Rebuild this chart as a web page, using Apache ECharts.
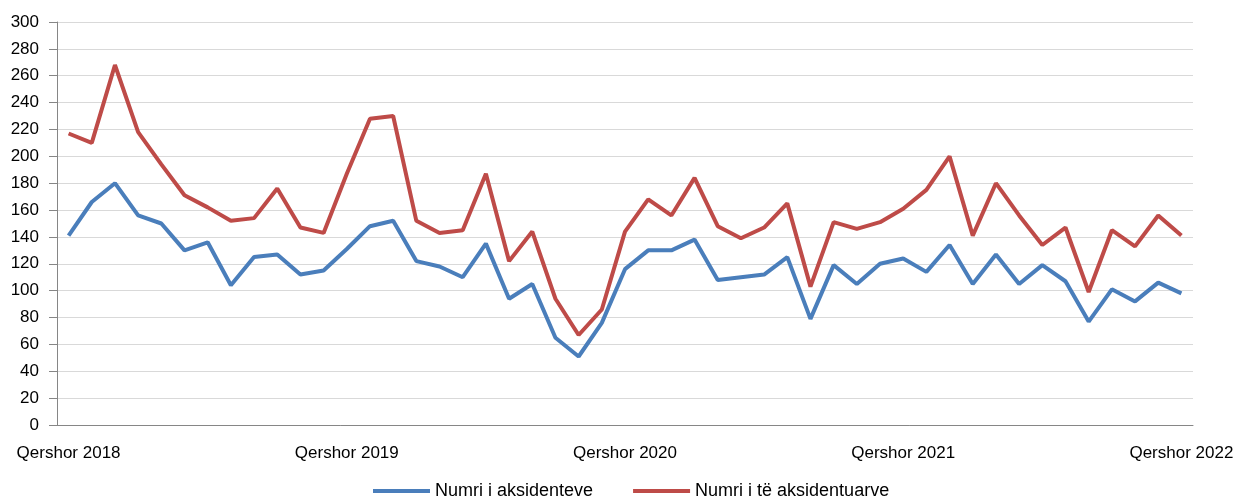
<!DOCTYPE html>
<html><head><meta charset="utf-8">
<script src="https://cdn.jsdelivr.net/npm/echarts@6/dist/echarts.min.js"></script>
<style>html,body{margin:0;padding:0;background:#fff}#c{width:1238px;height:500px}</style>
</head><body><div id="c"></div>
<script>
const months = ['Qershor','Korrik','Gusht','Shtator','Tetor','Nëntor','Dhjetor','Janar','Shkurt','Mars','Prill','Maj'];
const categories = [];
for (let i = 0; i < 49; i++) {
  categories.push(months[i % 12] + ' ' + (i % 12 < 7 ? 2018 + Math.floor(i / 12) : 2019 + Math.floor(i / 12)));
}
const accidents = [141,166,180,156,150,130,136,104,125,127,112,115,131,148,152,122,118,110,135,94,105,65,51,76,116,130,130,138,108,110,112,125,79,119,105,120,124,114,134,105,127,105,119,107,77,101,92,106,98];
const injured = [217,210,268,218,194,171,162,152,154,176,147,143,187,228,230,152,143,145,187,122,144,94,67,86,144,168,156,184,148,139,147,165,103,151,146,151,161,175,200,141,180,156,134,147,99,145,133,156,141];
const seriesNames = ['Numri i aksidenteve','Numri i të aksidentuarve'];
const yTicks = {min:0, max:300, interval:20};

const chart = echarts.init(document.getElementById('c'));
const font = 'Liberation Sans, Arial, sans-serif';
chart.setOption({
  animation:false,
  grid:{left:57,right:45,top:22,bottom:75},
  legend:{
    bottom:0, left:373, padding:0,
    icon:'rect', itemWidth:57, itemHeight:4, itemGap:40,
    textStyle:{fontFamily:font, fontSize:18, color:'#000'},
    data:seriesNames
  },
  xAxis:{
    type:'category', data:categories, boundaryGap:true,
    axisLine:{lineStyle:{color:'#868686'}},
    axisTick:{interval:0, length:6, lineStyle:{color:'#868686'}},
    axisLabel:{
      interval:function(i){return i % 12 === 0;},
      color:'#000', fontFamily:font, fontSize:17, margin:20
    }
  },
  yAxis:{
    type:'value', min:yTicks.min, max:yTicks.max, interval:yTicks.interval,
    axisLine:{show:true, lineStyle:{color:'#868686'}},
    axisTick:{show:true, length:8, lineStyle:{color:'#868686'}},
    splitLine:{lineStyle:{color:'#d9d9d9'}},
    axisLabel:{color:'#000', fontFamily:font, fontSize:17, margin:18}
  },
  series:[
    {name:seriesNames[0], type:'line', data:accidents, symbol:'none',
     lineStyle:{color:'#4a7ebb', width:4}, itemStyle:{color:'#4a7ebb'}},
    {name:seriesNames[1], type:'line', data:injured, symbol:'none',
     lineStyle:{color:'#be4b48', width:4}, itemStyle:{color:'#be4b48'}}
  ]
});
</script></body></html>
